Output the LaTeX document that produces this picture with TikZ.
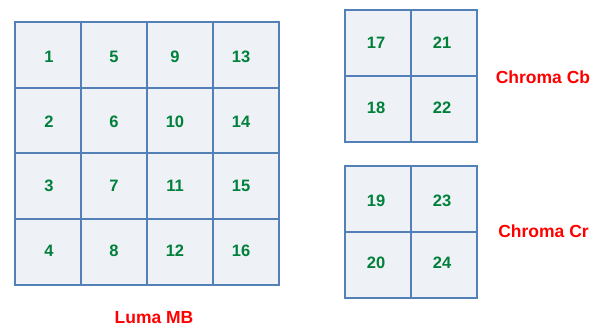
\documentclass[tikz,border=0pt]{standalone}
\usepackage{fontspec}
\setmainfont{Liberation Sans}
\definecolor{GridClr}{RGB}{84,128,184}
\definecolor{CellClr}{RGB}{238,241,246}
\definecolor{NumClr}{RGB}{0,128,58}
\definecolor{LabelClr}{RGB}{255,0,0}

\begin{document}
\begin{tikzpicture}[x=1pt,y=-1pt,
  cell/.style={draw=GridClr,line width=2pt,fill=CellClr},
  num/.style={text=NumClr,font=\bfseries\fontsize{16.5}{18}\selectfont,inner sep=0pt},
  lbl/.style={text=LabelClr,font=\bfseries\fontsize{17.5}{20}\selectfont,inner sep=0pt}]
\useasboundingbox (0,0) rectangle (602,328);

% luma block
\foreach \i in {0,...,3}
  \foreach \j in {0,...,3}
    \draw[cell] ({15+66*\i},{22+65.75*\j}) rectangle ++(66,65.75);

\foreach \i/\x in {0/49,1/114,2/175,3/241}
  \foreach \j/\y in {0/57,1/121.7,2/186.3,3/251}{
    \pgfmathtruncatemacro\n{4*\i+\j+1}
    \node[num] (n\n) at (\x,\y) {\n};
  }

% chroma blocks
\foreach \i in {0,1}
  \foreach \j in {0,1}{
    \draw[cell] ({345+66*\i},{10+66*\j}) rectangle ++(66,66);
    \draw[cell] ({345+66*\i},{166+66*\j}) rectangle ++(66,66);
  }

\node[num] (n17) at (376,43) {17};
\node[num] (n18) at (376,108) {18};
\node[num] (n21) at (442,43) {21};
\node[num] (n22) at (442,108) {22};

\node[num] (n19) at (376,201) {19};
\node[num] (n20) at (376,263) {20};
\node[num] (n23) at (442,201) {23};
\node[num] (n24) at (442,263) {24};

% labels
\node[lbl] (cb) at (543,77) {Chroma Cb};
\node[lbl] (cr) at (543.5,231) {Chroma Cr};
\node[lbl] (luma) at (154,317.5) {Luma MB};

\end{tikzpicture}
\end{document}
